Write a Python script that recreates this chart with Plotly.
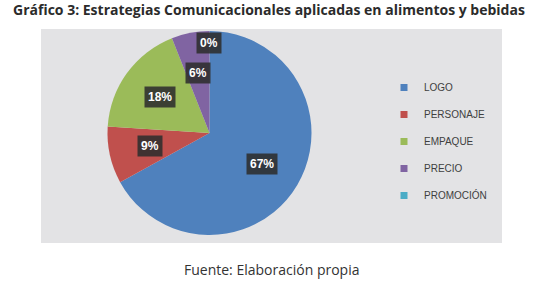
import math
import plotly.graph_objects as go

categories = ["LOGO", "PERSONAJE", "EMPAQUE", "PRECIO", "PROMOCIÓN"]
values = [67, 9, 18, 6, 0]
colors = ["#4F81BD", "#C0504D", "#9BBB59", "#8064A2", "#4BACC6"]
title_text = "Gráfico 3: Estrategias Comunicacionales aplicadas en alimentos y bebidas"
source_text = "Fuente: Elaboración propia"

W, H = 537, 288
# pie placement in pixels
cx, cy, R = 209.5, 133, 102
dom_x = [(cx - R) / W, (cx + R) / W]
dom_y = [1 - (cy + R) / H, 1 - (cy - R) / H]

fig = go.Figure()

# background panel
fig.add_shape(type="rect", xref="paper", yref="paper",
              x0=41 / W, x1=502 / W, y0=1 - 243 / H, y1=1 - 29 / H,
              fillcolor="#e3e3e5", line=dict(width=0), layer="below")

fig.add_trace(go.Pie(
    labels=categories, values=values, sort=False, direction="clockwise",
    rotation=0, marker=dict(colors=colors, line=dict(width=0)),
    textinfo="none", showlegend=False, domain=dict(x=dom_x, y=dom_y),
    hoverinfo="label+percent",
))

# legend entries
for c, col in zip(categories, colors):
    fig.add_trace(go.Scatter(x=[None], y=[None], mode="markers", name=c,
                             legendgroup=c,
                             marker=dict(symbol="square", size=7, color=col)))

# data labels
total = sum(values)
cum = 0
annots = []
for c, v in zip(categories, values):
    mid = (cum + v / 2) / total * 2 * math.pi
    cum += v
    r = 0.6 if v > 0 else 0.88
    px = cx + r * R * math.sin(mid)
    py = cy - r * R * math.cos(mid)
    annots.append(dict(x=px / W, y=1 - py / H, xref="paper", yref="paper",
                       xanchor="center", yanchor="middle",
                       text=f"<b>{round(v / total * 100)}%</b>", showarrow=False,
                       font=dict(family="Liberation Sans", size=12, color="white"),
                       bgcolor="rgba(45,45,45,0.88)", borderpad=3))

annots.append(dict(text=f"<b>{title_text}</b>", x=268.5 / W, y=1 - 10 / H,
                   xref="paper", yref="paper", xanchor="center", yanchor="middle",
                   showarrow=False,
                   font=dict(family="Open Sans", size=14, color="#2b2b2b")))
annots.append(dict(text=source_text, x=271 / W, y=1 - 269 / H,
                   xref="paper", yref="paper", xanchor="center", yanchor="middle",
                   showarrow=False,
                   font=dict(family="Open Sans", size=14, color="#333333")))

fig.update_layout(
    width=W, height=H, margin=dict(l=0, r=0, t=0, b=0),
    paper_bgcolor="white", plot_bgcolor="rgba(0,0,0,0)",
    xaxis=dict(visible=False), yaxis=dict(visible=False),
    legend=dict(x=384 / W, y=1 - 73 / H, xanchor="left", yanchor="top",
                font=dict(family="Liberation Sans", size=10, color="#404040"),
                tracegroupgap=8, itemwidth=30, bgcolor="rgba(0,0,0,0)"),
    annotations=annots,
)

fig.write_html("out.html", config={"displayModeBar": False},
               post_script="document.body.style.margin='0';document.body.style.overflow='hidden';")
